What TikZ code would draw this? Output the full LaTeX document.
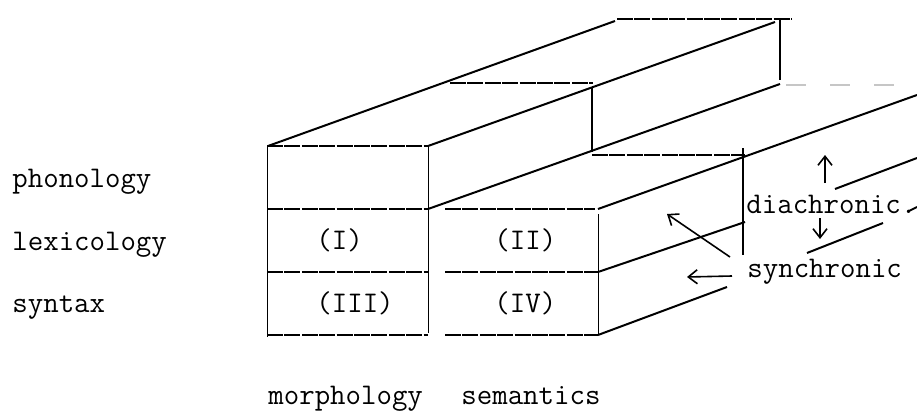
\documentclass[tikz,border=0pt]{standalone}
\usepackage{fontspec}
\usepackage{tikz}
\usetikzlibrary{arrows.meta}

\begin{document}
\begin{tikzpicture}[x=0.5pt, y=-0.5pt,
    every node/.style={font=\ttfamily\fontsize{15}{17}\selectfont, inner sep=0pt, anchor=base west},
    rule/.style={line width=0.8pt, dash pattern=on 8pt off 0.7pt},
    thin edge/.style={line width=0.5pt},
    depth edge/.style={line width=1pt},
    faint/.style={gray!45, line width=0.6pt, dash pattern=on 10pt off 12pt},
    marker/.style={line width=0.8pt, -{Straight Barb[length=4.5pt,width=7pt]}}]
  \useasboundingbox (0,0) rectangle (917,412);

  % Front face: morphology column
  \draw[rule] (267,146) -- (428,146);
  \draw[rule] (267,209) -- (428,209);
  \draw[rule] (267,272) -- (428,272);
  \draw[rule] (267,335) -- (428,335);
  \draw[thin edge] (267,146) -- (267,337);
  \draw[thin edge] (428,146) -- (428,333);

  % Front face: semantics column
  \draw[rule] (445,209) -- (595,209);
  \draw[rule] (445,272) -- (598,272);
  \draw[rule] (445,335) -- (598,335);
  \draw[thin edge] (598,214) -- (598,335);

  % Depth edges
  \draw[depth edge] (268,146) -- (615,21);
  \draw[depth edge] (428,146) -- (775,22);
  \draw[depth edge] (428,209) -- (780,84);
  \draw[depth edge] (598,209) -- (917,95);
  \draw[depth edge] (598,272) -- (745,222);
  \draw[depth edge] (835,189) -- (917,158);
  \draw[depth edge] (598,335) -- (727,287);
  \draw[depth edge] (807,253) -- (883,223);
  \draw[depth edge] (909,211) -- (917,207);

  % Back and middle slices
  \draw[rule] (617,19) -- (792,19);
  \draw[depth edge] (780,19) -- (780,80);
  \draw[faint] (786,85) -- (900,85);
  \draw[rule] (450,83) -- (593,83);
  \draw[depth edge] (592,88) -- (592,152);
  \draw[rule] (592,155) -- (745,155);
  \draw[thin edge, line width=0.7pt] (743,148) -- (743,255);

  % Arrows
  \coordinate (up0) at (825,183);
  \coordinate (up1) at (825,155);
  \coordinate (dn0) at (820,218);
  \coordinate (dn1) at (820,239);
  \coordinate (dg0) at (730,257);
  \coordinate (dg1) at (667,214);
  \coordinate (lf0) at (732,276);
  \coordinate (lf1) at (687,277);
  \draw[marker] (up0) -- (up1);
  \draw[marker] (dn0) -- (dn1);
  \draw[marker] (dg0) -- (dg1);
  \draw[marker] (lf0) -- (lf1);

  % Labels
  \node (phon) at (12,187) {phonology};
  \node (lexi) at (12,250) {lexicology};
  \node (synt) at (12,312) {syntax};
  \node (c1) at (316,249) {(I)};
  \node (c2) at (494,249) {(II)};
  \node (c3) at (316,312) {(III)};
  \node (c4) at (494,312) {(IV)};
  \node (morph) at (268,404) {morphology};
  \node (sem) at (461,404) {semantics};
  \node (dia) at (746,213) {diachronic.};
  \node (syn) at (747,277) {synchronic};
\end{tikzpicture}
\end{document}
